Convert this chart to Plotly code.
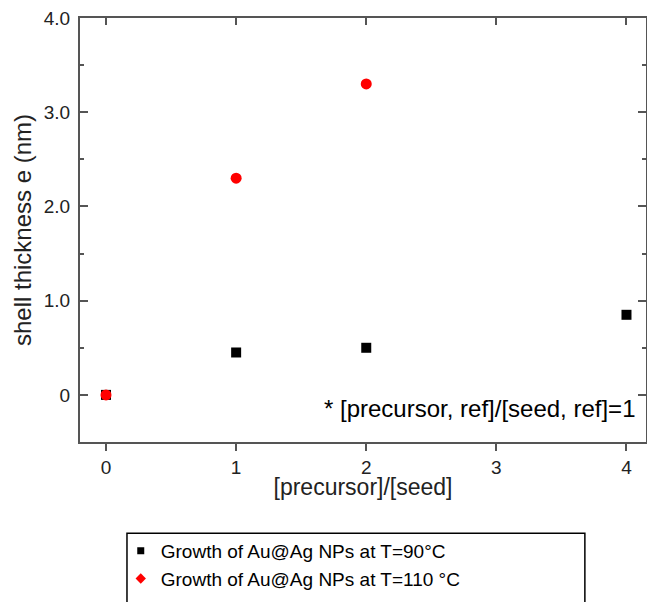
import plotly.graph_objects as go

# data
ratio_90 = [0, 1, 2, 4]
shell_90 = [0.0, 0.45, 0.50, 0.85]
ratio_110 = [0, 1, 2]
shell_110 = [0.0, 2.30, 3.30]

name_90 = "Growth of Au@Ag NPs at T=90°C"
name_110 = "Growth of Au@Ag NPs at T=110 °C"

y_tickvals = [0, 1, 2, 3, 4]
y_ticktext = ["0", "1.0", "2.0", "3.0", "4.0"]
x_tickvals = [0, 1, 2, 3, 4]
x_ticktext = ["0", "1", "2", "3", "4"]

axis_col = "#555555"
font_fam = "Arial, Liberation Sans, sans-serif"
x_range = [-0.2, 4.15]

fig = go.Figure()

# points (legend drawn with separate small symbols below)
fig.add_trace(go.Scatter(x=ratio_90, y=shell_90, mode="markers", showlegend=False,
                         marker=dict(symbol="square", size=10, color="black")))
fig.add_trace(go.Scatter(x=ratio_110, y=shell_110, mode="markers", showlegend=False,
                         marker=dict(symbol="circle", size=11, color="#ff0000")))

# legend entries
fig.add_trace(go.Scatter(x=[None], y=[None], mode="markers", name=name_90,
                         marker=dict(symbol="square", size=7, color="black")))
fig.add_trace(go.Scatter(x=[None], y=[None], mode="markers", name=name_110,
                         marker=dict(symbol="diamond", size=8, color="#ff0000")))

fig.add_annotation(x=4.08, y=-0.14, xref="x", yref="y", xanchor="right", yanchor="middle",
                   text="* [precursor, ref]/[seed, ref]=1", showarrow=False,
                   font=dict(size=24, color="black", family=font_fam))

# legend frame (cut off at the bottom like the reference)
fig.add_shape(type="rect", xref="paper", yref="paper",
              x0=0.083, x1=0.892, y0=-0.42, y1=-0.215,
              line=dict(color="black", width=1.5), fillcolor="rgba(0,0,0,0)")

fig.update_layout(
    width=647, height=602,
    margin=dict(l=80, r=1, t=18, b=160, autoexpand=False),
    plot_bgcolor="white", paper_bgcolor="white",
    font=dict(family=font_fam, color="#222222", size=19),
    showlegend=True,
    legend=dict(x=0.072, y=-0.212, xanchor="left", yanchor="top",
                bgcolor="rgba(0,0,0,0)", borderwidth=0,
                font=dict(size=19, color="black"), itemwidth=30,
                tracegroupgap=0),
    # main x axis: frame line and title only
    xaxis=dict(range=x_range, showticklabels=False, ticks="",
               showline=True, linecolor=axis_col, linewidth=2, mirror=True,
               showgrid=False, zeroline=False, automargin=False,
               title=dict(text="[precursor]/[seed]", font=dict(size=23), standoff=36)),
    # top ticks point inward
    xaxis2=dict(range=x_range, overlaying="x", side="top", tickvals=x_tickvals,
                ticks="inside", ticklen=7, tickwidth=2, tickcolor=axis_col,
                showticklabels=False, showline=False, showgrid=False,
                zeroline=False, automargin=False),
    # bottom ticks point outward, with the labels
    xaxis3=dict(range=x_range, overlaying="x", side="bottom", tickmode="array",
                tickvals=x_tickvals, ticktext=x_ticktext, ticks="outside", ticklen=8,
                tickwidth=2, tickcolor=axis_col, showticklabels=True,
                tickfont=dict(size=19, color="#222222"), ticklabeloverflow="allow",
                showline=False, showgrid=False, zeroline=False, automargin=False),
    yaxis=dict(range=[-0.5, 4.0], tickvals=y_tickvals, ticktext=y_ticktext,
               ticks="inside", ticklen=8, tickwidth=2, tickcolor=axis_col,
               minor=dict(dtick=0.5, ticks="inside", ticklen=4, tickwidth=2,
                          tickcolor=axis_col, showgrid=False),
               showline=True, linecolor=axis_col, linewidth=2, mirror="ticks",
               showgrid=False, zeroline=False, automargin=False,
               ticklabelstandoff=4, ticklabeloverflow="allow", tickfont=dict(size=19),
               title=dict(text="shell thickness e (nm)", font=dict(size=24), standoff=5)),
)

# empty traces so the extra tick axes are drawn
fig.add_trace(go.Scatter(x=[None], y=[None], xaxis="x2", showlegend=False, hoverinfo="skip"))
fig.add_trace(go.Scatter(x=[None], y=[None], xaxis="x3", showlegend=False, hoverinfo="skip"))

# drop the page's default body margin so the figure sits at the window corner
fig.write_html("out.html", config={"displayModeBar": False, "staticPlot": True},
               post_script="document.body.style.margin='0px';")
